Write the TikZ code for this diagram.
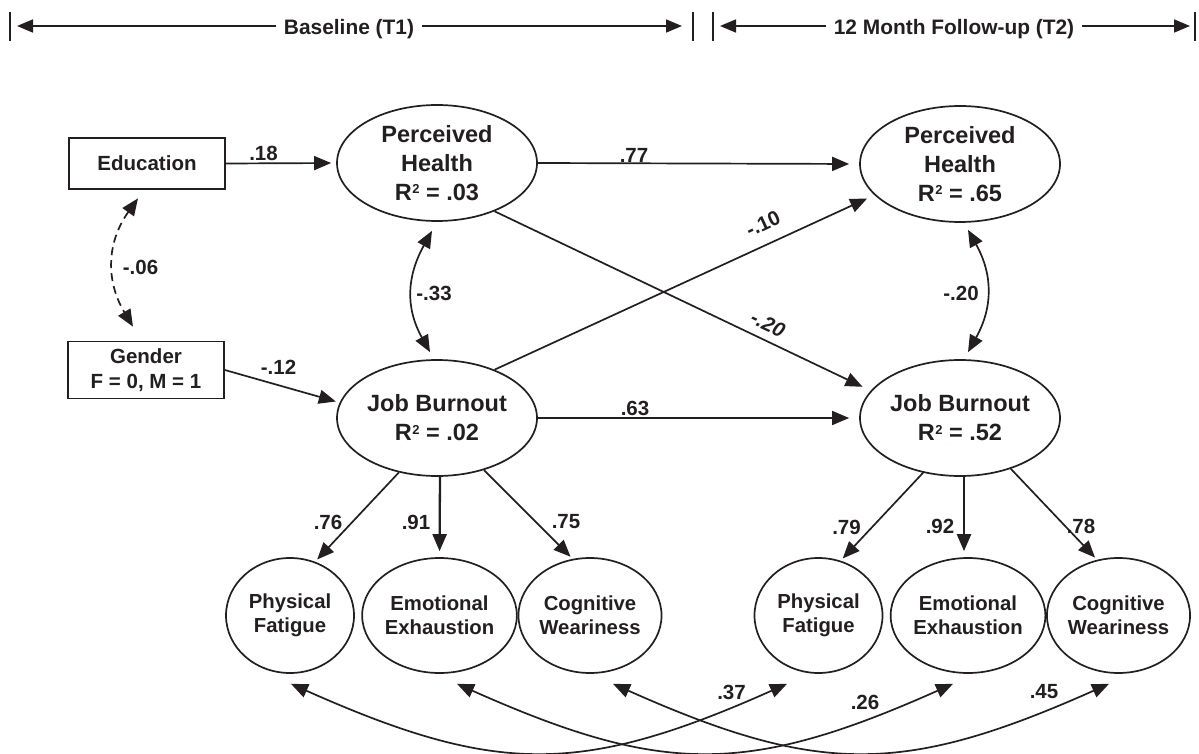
\documentclass[tikz,border=0pt]{standalone}
\usepackage{fontspec}
\setmainfont{Liberation Sans}
\usetikzlibrary{arrows.meta,shapes.geometric,calc}
\definecolor{ink}{RGB}{35,31,32}
\newcommand{\rsq}{R\kern0.5pt\raisebox{6.5pt}{\fontsize{13}{13}\selectfont 2}}
\begin{document}
\begin{tikzpicture}[x=1pt,y=1pt, color=ink, line width=1.7pt, font=\bfseries,
  arr/.style={-{Triangle[length=17pt,width=14pt]}},
  darr/.style={{Triangle[length=17pt,width=14pt]}-{Triangle[length=17pt,width=14pt]}},
  harr/.style={-{Triangle[length=16pt,width=13pt]}},
  bigell/.style={ellipse, draw, minimum width=200pt, minimum height=116pt, inner sep=0pt, align=center, font=\bfseries\fontsize{23.5}{29}\selectfont},
  smallell/.style={ellipse, draw, minimum width=128pt, minimum height=115pt, inner sep=0pt, align=center, font=\bfseries\fontsize{20.3}{24}\selectfont},
  varbox/.style={rectangle, draw, minimum width=156pt, align=center, inner sep=0pt, font=\bfseries\fontsize{20.5}{25}\selectfont},
  lab/.style={inner sep=0pt, font=\bfseries\fontsize{20.5}{24}\selectfont},
  hdr/.style={inner xsep=7pt, inner ysep=0pt, font=\bfseries\fontsize{20.9}{24}\selectfont}]
\useasboundingbox (0,0) rectangle (1199,-754);

% ---------- header ----------
\coordinate (b1t) at (10,-12);   \coordinate (b1b) at (10,-41);
\coordinate (b2t) at (693,-12);  \coordinate (b2b) at (693,-41);
\coordinate (b3t) at (713,-12);  \coordinate (b3b) at (713,-41);
\coordinate (b4t) at (1195,-12); \coordinate (b4b) at (1195,-41);
\coordinate (a1) at (17,-26);
\coordinate (a2) at (682,-26);
\coordinate (a3) at (720,-26);
\coordinate (a4) at (1190,-26);
\node[hdr, anchor=base] (t1) at (349,-35) {Baseline (T1)};
\node[hdr, anchor=base] (t2) at (954,-35) {12 Month Follow-up (T2)};
\draw (b1t) -- (b1b);
\draw (b2t) -- (b2b);
\draw (b3t) -- (b3b);
\draw (b4t) -- (b4b);
\draw[harr] (t1.west |- a1) -- (a1);
\draw[harr] (t1.east |- a2) -- (a2);
\draw[harr] (t2.west |- a3) -- (a3);
\draw[harr] (t2.east |- a4) -- (a4);

% ---------- nodes ----------
\node[varbox, minimum height=51pt] (edu) at (147,-163.5) {Education};
\node[varbox, minimum height=57pt] (gen) at (146,-370) {Gender\\F = 0, M = 1};

\node[bigell] (ph1) at (437,-163) {Perceived\\Health\\\rsq\ = .03};
\node[bigell] (ph2) at (960,-164) {Perceived\\Health\\\rsq\ = .65};
\node[bigell] (jb1) at (437,-418) {Job Burnout\\\rsq\ = .02};
\node[bigell] (jb2) at (960,-418) {Job Burnout\\\rsq\ = .52};

\node[smallell] (pf1) at (290,-615.5) {Physical\\Fatigue};
\node[smallell] (ee1) at (439.5,-615.5) {Emotional\\Exhaustion};
\node[smallell] (cw1) at (590,-615.5) {Cognitive\\Weariness};
\node[smallell] (pf2) at (818.5,-615.5) {Physical\\Fatigue};
\node[smallell] (ee2) at (968,-615.5) {Emotional\\Exhaustion};
\node[smallell] (cw2) at (1118.5,-615.5) {Cognitive\\Weariness};

% ---------- structural paths ----------
\draw[arr, shorten >=5pt] (edu.east) -- (ph1.west);
\draw[arr, shorten >=4pt] (gen.east) -- (jb1.171);
\draw[arr, shorten >=10pt] (ph1.east) -- (ph2.west);
\draw[arr, shorten >=10pt] (jb1.east) -- (jb2.west);
\draw[arr, shorten >=9pt] (ph1.-40) -- (jb2.163);
\draw[arr, shorten >=8pt] (jb1.40) -- (ph2.200);

% correlations
\draw[darr, dash pattern=on 8pt off 5pt] ([shift={(-9,-8.5)}]edu.south) .. controls +(-32,-45) and +(-27,45) .. ([shift={(-13,14)}]gen.north);
\draw[darr] ([shift={(-5,-9)}]ph1.south) .. controls +(-25,-45) and +(-25,45) .. ([shift={(-7,7)}]jb1.north);
\draw[darr] ([shift={(8,-7)}]ph2.south) .. controls +(25,-45) and +(25,45) .. ([shift={(8,7)}]jb2.north);

% measurement paths
\draw[arr, shorten >=3pt] (jb1.-125) -- (pf1.65);
\draw[arr, line width=2.3pt, shorten >=6pt] ([xshift=3pt]jb1.south) -- (ee1.north);
\draw[arr, shorten >=3pt] (jb1.-48) -- (cw1.107);
\draw[arr, shorten >=3pt] (jb2.-124) -- (pf2.68);
\draw[arr, line width=2.3pt, shorten >=6pt] ([xshift=4pt]jb2.south) -- ([xshift=-4pt]ee2.north);
\draw[arr, shorten >=3pt] (jb2.-45) -- (cw2.111);

% residual covariances
\draw[darr] ([shift={(1,-10)}]pf1.south) .. controls +(-24:225) and +(-156:225) .. ([shift={(-31.5,-10)}]pf2.south);
\draw[darr] ([shift={(17.5,-10)}]ee1.south) .. controls +(-24:225) and +(-156:225) .. ([shift={(-15,-10)}]ee2.south);
\draw[darr] ([shift={(23,-10)}]cw1.south) .. controls +(-24:225) and +(-156:225) .. ([shift={(-9.5,-10)}]cw2.south);

% ---------- labels ----------
\node[lab] (l18) at (263.5,-153) {.18};
\node[lab] (l06) at (140.5,-267) {-.06};
\node[lab] (l12) at (278.5,-367) {-.12};
\node[lab] (l77) at (634,-155) {.77};
\node[lab] (l63) at (635,-408) {.63};
\node[lab] (l33) at (434,-293) {-.33};
\node[lab] (l20b) at (961,-293) {-.20};
\node[lab, rotate=25] (l10) at (763,-224) {-.10};
\node[lab, rotate=-25, font=\bfseries\itshape\fontsize{20.5}{24}\selectfont] (l20) at (768,-324) {-.20};
\node[lab] (l76) at (328,-522) {.76};
\node[lab] (l91) at (416,-522) {.91};
\node[lab] (l75) at (566,-522) {.75};
\node[lab] (l79) at (846.5,-527) {.79};
\node[lab] (l92) at (940,-526) {.92};
\node[lab] (l78) at (1081,-526) {.78};
\node[lab] (l37) at (731.5,-692) {.37};
\node[lab] (l26) at (865,-702) {.26};
\node[lab] (l45) at (1044,-692) {.45};
\end{tikzpicture}
\end{document}
